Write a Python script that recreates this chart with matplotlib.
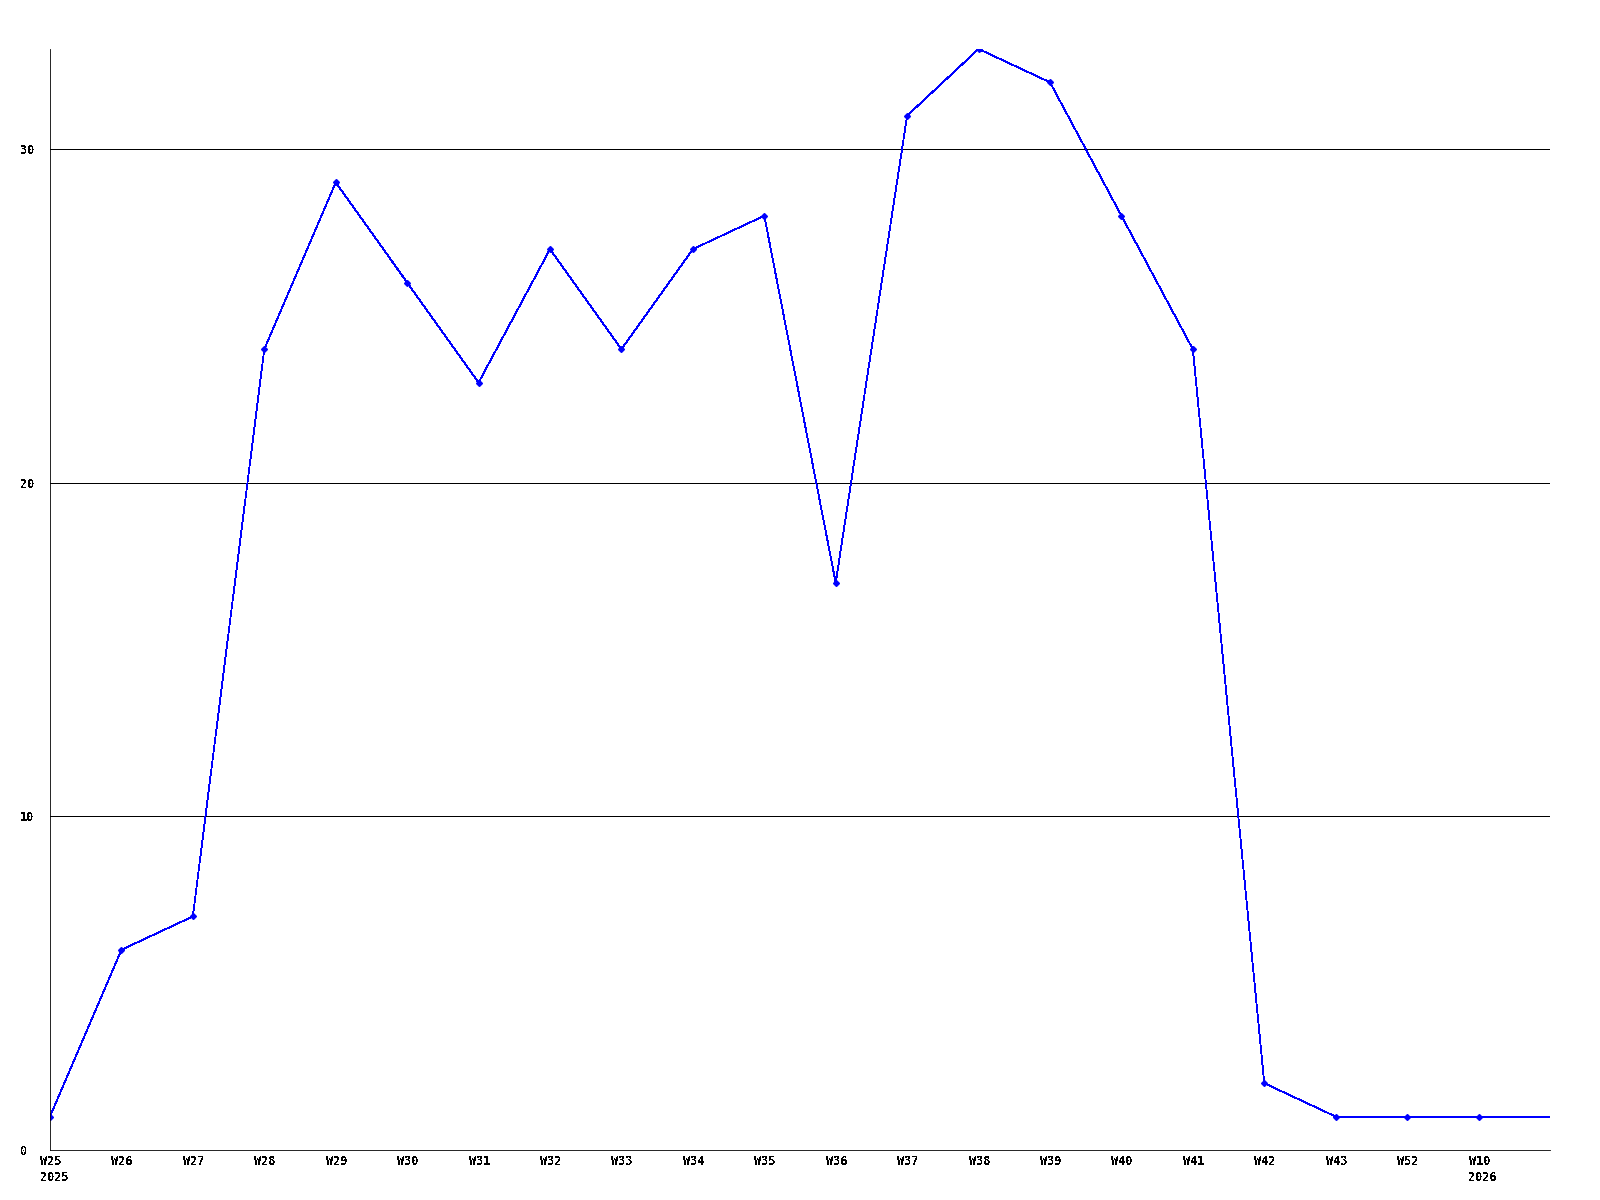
import matplotlib
matplotlib.use("Agg")
import matplotlib.pyplot as plt
import matplotlib.transforms as mtransforms

weeks = ["W25\n2025", "W26", "W27", "W28", "W29", "W30", "W31", "W32", "W33",
         "W34", "W35", "W36", "W37", "W38", "W39", "W40", "W41", "W42", "W43",
         "W52", "W10\n2026"]
counts = [1, 6, 7, 24, 29, 26, 23, 27, 24, 27, 28, 17, 31, 33, 32, 28, 24, 2, 1, 1, 1]
# line runs on to the right edge at the last value
tail = 1
yticks = [0, 10, 20, 30]

plt.rcParams['text.antialiased'] = False
font = dict(family="DejaVu Sans Mono", weight="bold", size=8.5)

fig = plt.figure(figsize=(16, 12), dpi=100)
ax = fig.add_axes([0.03125, 0.0417, 0.9375, 0.9175])

xs = list(range(len(counts))) + [len(counts)]
ys = counts + [tail]
ax.plot(xs, ys, color="#0000ff", lw=0.6, marker="D", ms=3,
        markevery=list(range(len(counts))), antialiased=False)

ax.set_xlim(0, len(counts))
ax.set_ylim(0, 33)

for v in yticks[1:]:
    ax.axhline(v, color="black", lw=0.6, antialiased=False, zorder=0)

ax.set_yticks(yticks)
ax.set_yticklabels([str(v) for v in yticks], ha="left", **font)
ax.set_xticks(range(len(weeks)))
ax.set_xticklabels([])

# week labels, left edge a bit before the tick
offset = mtransforms.ScaledTranslation(-0.10, -0.05, fig.dpi_scale_trans)
trans = ax.get_xaxis_transform() + offset
for i, w in enumerate(weeks):
    ax.text(i, 0, w, transform=trans, ha="left", va="top",
            linespacing=1.35, **font)

ax.tick_params(length=0)
ax.tick_params(axis="y", pad=21.6)
ax.spines["top"].set_visible(False)
ax.spines["right"].set_visible(False)
ax.spines["left"].set_linewidth(0.6)
ax.spines["bottom"].set_linewidth(0.6)

fig.savefig("out.png", dpi=100)
